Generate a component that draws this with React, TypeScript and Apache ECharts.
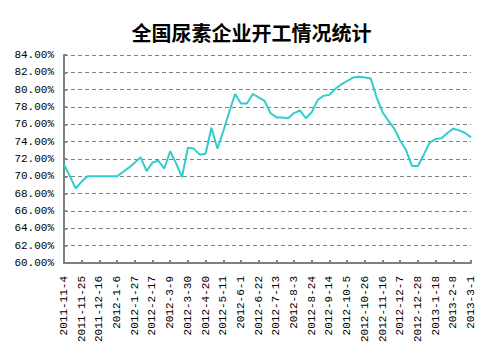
import React, { useEffect, useRef } from "react";
import * as echarts from "echarts";

const title = "全国尿素企业开工情况统计";

const dates = [
  "2011-11-4", "2011-11-11", "2011-11-18", "2011-11-25", "2011-12-2", "2011-12-9", "2011-12-16", "2011-12-23", "2011-12-30",
  "2012-1-6", "2012-1-13", "2012-1-20", "2012-1-27", "2012-2-3", "2012-2-10", "2012-2-17", "2012-2-24", "2012-3-2",
  "2012-3-9", "2012-3-16", "2012-3-23", "2012-3-30", "2012-4-6", "2012-4-13", "2012-4-20", "2012-4-27", "2012-5-4",
  "2012-5-11", "2012-5-18", "2012-5-25", "2012-6-1", "2012-6-8", "2012-6-15", "2012-6-22", "2012-6-29", "2012-7-6",
  "2012-7-13", "2012-7-20", "2012-7-27", "2012-8-3", "2012-8-10", "2012-8-17", "2012-8-24", "2012-8-31", "2012-9-7",
  "2012-9-14", "2012-9-21", "2012-9-28", "2012-10-5", "2012-10-12", "2012-10-19", "2012-10-26", "2012-11-2", "2012-11-9",
  "2012-11-16", "2012-11-23", "2012-11-30", "2012-12-7", "2012-12-14", "2012-12-21", "2012-12-28",
  "2013-1-4", "2013-1-11", "2013-1-18", "2013-1-25", "2013-2-1", "2013-2-8", "2013-2-15", "2013-2-22", "2013-3-1",
];

const rates = [
  71.4, 70.0, 68.6, 69.4, 70.0, 70.0, 70.0, 70.0, 70.0, 70.0,
  70.5, 71.0, 71.6, 72.2, 70.6, 71.6, 71.8, 70.9, 72.9, 71.5,
  69.9, 73.3, 73.2, 72.5, 72.6, 75.6, 73.2, 75.2, 77.4, 79.5,
  78.4, 78.4, 79.5, 79.1, 78.7, 77.3, 76.8, 76.8, 76.7, 77.3,
  77.6, 76.7, 77.4, 78.8, 79.3, 79.4, 80.1, 80.6, 81.0, 81.4,
  81.5, 81.4, 81.3, 79.1, 77.4, 76.4, 75.5, 74.1, 73.0, 71.2,
  71.2, 72.5, 73.9, 74.3, 74.4, 75.0, 75.5, 75.3, 75.0, 74.5,
];

const yMin = 60;
const yMax = 84;
const yStep = 2;

export default function App() {
  const ref = useRef<HTMLDivElement>(null);
  useEffect(() => {
    document.body.style.margin = "0";
    if (!ref.current) return;
    const chart = echarts.init(ref.current, null, { renderer: "svg" });
    const font = "'Liberation Mono', 'DejaVu Sans Mono', monospace";
    chart.setOption({
      animation: false,
      backgroundColor: "#ffffff",
      title: {
        text: title,
        left: "center",
        top: 17,
        textStyle: {
          fontFamily: "'Noto Sans CJK SC', sans-serif",
          fontSize: 20,
          fontWeight: "bold",
          color: "#000000",
        },
      },
      grid: { left: 64, right: 32, top: 55, bottom: 88 },
      xAxis: {
        type: "category",
        data: dates,
        boundaryGap: false,
        axisLine: { lineStyle: { color: "#808080", width: 2 } },
        axisTick: { show: true, interval: 2, inside: true, length: 3, lineStyle: { color: "#808080", width: 2 } },
        axisLabel: {
          interval: 2,
          rotate: 90,
          fontFamily: font,
          fontSize: 11,
          color: "#000000",
          margin: 13,
        },
        splitLine: { show: false },
      },
      yAxis: {
        type: "value",
        min: yMin,
        max: yMax,
        interval: yStep,
        axisLine: { show: true, lineStyle: { color: "#808080", width: 2 } },
        axisTick: { show: true, inside: true, length: 3, lineStyle: { color: "#808080", width: 2 } },
        axisLabel: {
          formatter: (v: number) => v.toFixed(2) + "%",
          fontFamily: font,
          fontSize: 11,
          color: "#000000",
          margin: 10,
        },
        splitLine: { show: true, lineStyle: { color: "#808080", type: [4, 3], width: 1 } },
      },
      series: [
        {
          type: "line",
          data: rates,
          showSymbol: false,
          symbol: "none",
          lineStyle: { color: "#33CCCC", width: 2 },
          itemStyle: { color: "#33CCCC" },
        },
      ],
    });
    return () => chart.dispose();
  }, []);
  return <div ref={ref} style={{ width: 503, height: 351 }} />;
}
